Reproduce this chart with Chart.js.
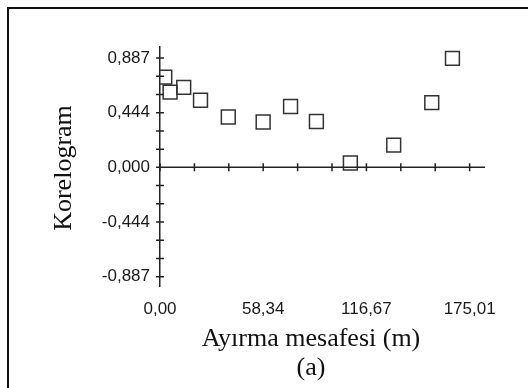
<!DOCTYPE html>
<html>
<head>
<meta charset="utf-8">
<script src="https://cdn.jsdelivr.net/npm/chart.js@4/dist/chart.umd.min.js"></script>
<style>
  html, body { margin: 0; padding: 0; background: #fff; }
  #wrap { position: relative; width: 528px; height: 388px; overflow: hidden; }
  #frame { position: absolute; left: 7px; top: 7px; width: 600px; height: 500px;
           border-left: 2px solid #111; border-top: 2px solid #111; }
  canvas { position: absolute; left: 0; top: 0; }
</style>
</head>
<body>
<div id="wrap">
  <div id="frame"></div>
  <canvas id="chart" width="528" height="388"></canvas>
</div>
<script>
// Ayırma mesafesi (m) ve korelogram değerleri
const distances = [2.7, 5.7, 13.4, 22.9, 38.6, 58.3, 73.8, 88.4, 107.6, 132.1, 153.6, 165.3];
const correlogram = [0.732, 0.611, 0.649, 0.545, 0.409, 0.368, 0.494, 0.372, 0.035, 0.180, 0.526, 0.885];

// Eksen işaretleri ve etiketleri
const xTicks = [0, 19.45, 38.89, 58.34, 77.78, 97.23, 116.67, 136.12, 155.56, 175.01];
const xTickLabels = ['0,00', '', '', '58,34', '', '', '116,67', '', '', '175,01'];
const yTicks = [-0.887, -0.739, -0.591, -0.444, -0.296, -0.148, 0, 0.148, 0.296, 0.444, 0.591, 0.739, 0.887];
const yTickLabels = ['-0,887', '', '', '-0,444', '', '', '0,000', '', '', '0,444', '', '', '0,887'];

const xTitle = 'Ayırma mesafesi (m)';
const yTitle = 'Korelogram';
const caption = '(a)';

const axisColor = '#222';

// eksenleri kesen küçük işaretler, x ekseni çizgisi ve başlıklar
const crossTicks = {
  id: 'crossTicks',
  afterDraw(chart) {
    const { ctx, scales: { x, y } } = chart;
    const x0 = x.getPixelForValue(0);
    const y0 = y.getPixelForValue(0);
    ctx.save();
    ctx.strokeStyle = axisColor;
    ctx.lineWidth = 1.5;
    ctx.beginPath();
    ctx.moveTo(x.left, y0);
    ctx.lineTo(x.right, y0);
    x.ticks.forEach(t => {
      const px = x.getPixelForValue(t.value);
      ctx.moveTo(px, y0 - 4);
      ctx.lineTo(px, y0 + 4);
    });
    y.ticks.forEach(t => {
      const py = y.getPixelForValue(t.value);
      ctx.moveTo(x0 - 4, py);
      ctx.lineTo(x0 + 4, py);
    });
    ctx.stroke();

    ctx.fillStyle = '#111';
    ctx.font = '26px "Liberation Serif", "Times New Roman", serif';
    ctx.textAlign = 'center';
    ctx.textBaseline = 'alphabetic';
    ctx.fillText(xTitle, 311, 346);
    ctx.fillText(caption, 311, 375);
    ctx.translate(70.5, 168);
    ctx.rotate(-Math.PI / 2);
    ctx.fillText(yTitle, 0, 0);
    ctx.restore();
  }
};

const tickFont = { family: '"Liberation Sans", Arial, sans-serif', size: 17 };

new Chart(document.getElementById('chart'), {
  type: 'scatter',
  data: {
    datasets: [{
      data: distances.map((d, i) => ({ x: d, y: correlogram[i] })),
      pointStyle: 'rect',
      pointRadius: 9.8,
      pointHoverRadius: 9.8,
      borderColor: '#333',
      borderWidth: 1.5,
      backgroundColor: 'rgba(0,0,0,0)'
    }]
  },
  options: {
    responsive: false,
    animation: false,
    layout: { padding: { left: 0, top: 47, right: 43, bottom: 0 } },
    plugins: { legend: { display: false }, tooltip: { enabled: false } },
    scales: {
      x: {
        type: 'linear',
        min: 0,
        max: 183.7,
        grid: { display: false, drawTicks: false },
        border: { display: false },
        afterBuildTicks: s => { s.ticks = xTicks.map(v => ({ value: v })); },
        afterFit: s => { s.height = 102; },
        ticks: {
          autoSkip: false,
          maxRotation: 0,
          padding: 13,
          color: '#1a1a1a',
          font: tickFont,
          callback: (v, i) => xTickLabels[i]
        }
      },
      y: {
        type: 'linear',
        min: -0.963,
        max: 0.977,
        grid: { display: false, drawTicks: false },
        border: { display: true, color: axisColor, width: 1.5 },
        afterBuildTicks: s => { s.ticks = yTicks.map(v => ({ value: v })); },
        afterFit: s => { s.width = 160; },
        ticks: {
          autoSkip: false,
          padding: 10,
          color: '#1a1a1a',
          font: tickFont,
          callback: (v, i) => yTickLabels[i]
        }
      }
    }
  },
  plugins: [crossTicks]
});
</script>
</body>
</html>
